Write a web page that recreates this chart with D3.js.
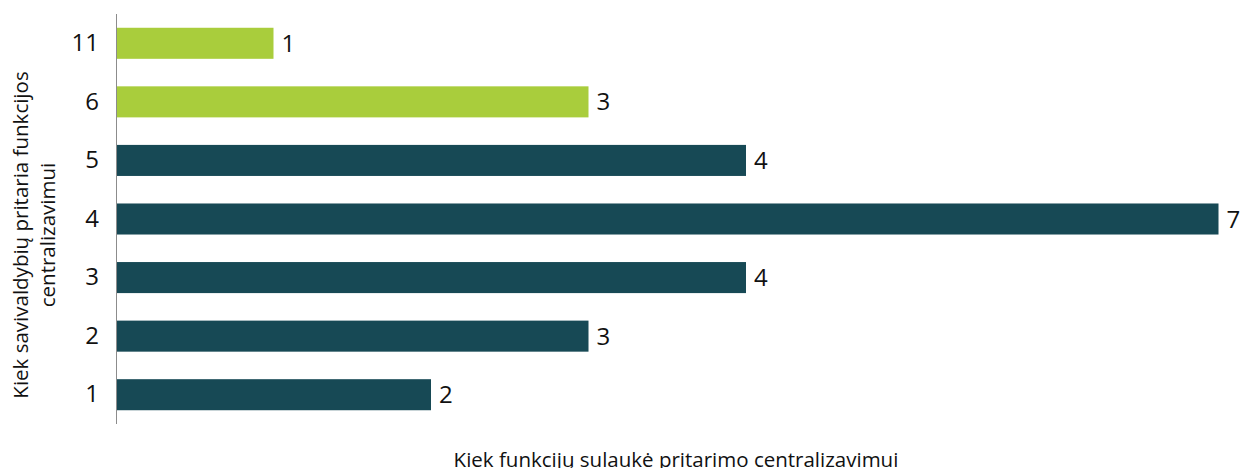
<!DOCTYPE html>
<html>
<head>
<meta charset="utf-8">
<script src="https://cdn.jsdelivr.net/npm/d3@7"></script>
<style>
  body { margin: 0; background: #fff; }
  text { font-family: "Open Sans", "Liberation Sans", sans-serif; fill: #111; }
</style>
</head>
<body>
<svg width="1241" height="468"></svg>
<script>
// categories top to bottom and values
var categories = ["11", "6", "5", "4", "3", "2", "1"];
var values = [1, 3, 4, 7, 4, 3, 2];
var highlighted = ["11", "6"]; // green bars

var svg = d3.select("svg");
var plotLeft = 116, plotRight = 1218.5, plotTop = 14, plotBottom = 424;

var x = d3.scaleLinear().domain([0, 7]).range([plotLeft, plotRight]);
var y = d3.scaleBand().domain(categories).range([plotTop, plotBottom]).paddingInner(0.47).paddingOuter(0.235);

// bars
svg.selectAll(".bar")
  .data(categories)
  .enter().append("rect")
  .attr("class", "bar")
  .attr("x", x(0))
  .attr("y", function(d) { return y(d); })
  .attr("width", function(d, i) { return x(values[i]) - x(0); })
  .attr("height", y.bandwidth())
  .attr("fill", function(d) { return highlighted.indexOf(d) >= 0 ? "#a9cd3c" : "#174955"; });

// value labels
svg.selectAll(".val")
  .data(categories)
  .enter().append("text")
  .attr("x", function(d, i) { return x(values[i]) + 8; })
  .attr("y", function(d) { return y(d) + y.bandwidth() / 2; })
  .attr("dy", "0.36em")
  .attr("font-size", "24px")
  .text(function(d, i) { return values[i]; });

// y axis
var yAxis = svg.append("g")
  .attr("transform", "translate(" + plotLeft + ",0)")
  .call(d3.axisLeft(y).tickSize(0).tickPadding(17));
yAxis.select(".domain").attr("stroke", "#8c8c8c").attr("d", "M0.5," + plotTop + "V" + plotBottom);
yAxis.selectAll("text").attr("font-size", "24px").attr("font-family", "Open Sans, sans-serif").attr("fill", "#111");

// axis titles
var yt = svg.append("text")
  .attr("transform", "translate(28,235) rotate(-90)")
  .attr("text-anchor", "middle")
  .attr("font-size", "20.5px");
yt.append("tspan").attr("x", 0).attr("dy", "0").text("Kiek savivaldybių pritaria funkcijos");
yt.append("tspan").attr("x", 0).attr("dy", "1.3em").text("centralizavimui");

svg.append("text")
  .attr("x", 676)
  .attr("y", 467)
  .attr("text-anchor", "middle")
  .attr("font-size", "20.5px")
  .text("Kiek funkcijų sulaukė pritarimo centralizavimui");
</script>
</body>
</html>
